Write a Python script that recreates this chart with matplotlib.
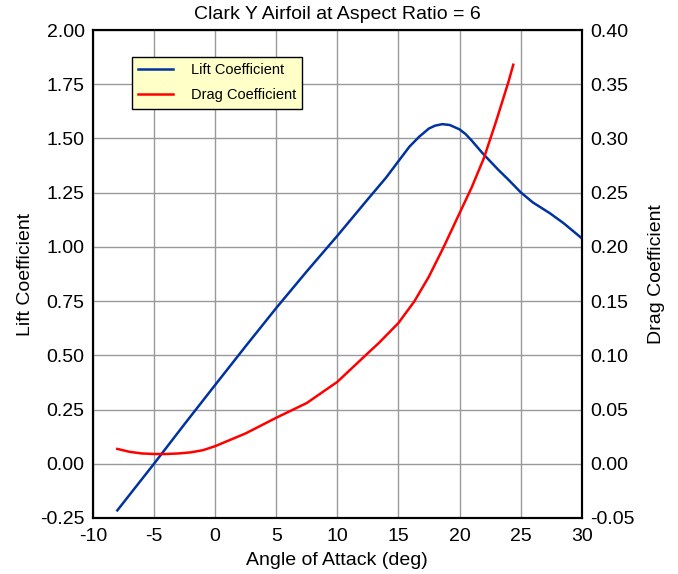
import numpy as np
import matplotlib.pyplot as plt

plt.rcParams['font.family'] = ['Liberation Sans', 'DejaVu Sans']
plt.rcParams['axes.unicode_minus'] = False

# lift coefficient vs angle of attack
alpha_cl = [-8, -5, -2.5, 0, 2.5, 5, 7.5, 10, 12.5, 14, 15, 15.9, 16.7, 17.5, 18, 18.6, 19.2, 20, 20.5, 21, 21.9, 23.2, 24, 25, 26, 27.4, 28.5, 30]
lift = [-0.215, 0.0, 0.183, 0.363, 0.542, 0.718, 0.887, 1.051, 1.22, 1.32, 1.395, 1.462, 1.508, 1.546, 1.559, 1.566, 1.562, 1.542, 1.52, 1.49, 1.431, 1.354, 1.31, 1.252, 1.205, 1.155, 1.11, 1.04]

# drag coefficient vs angle of attack
alpha_cd = [-8, -7, -6, -5, -4, -3, -2, -1, 0, 2.5, 5, 7.5, 10, 12.5, 13.4, 15, 16.3, 17.5, 18.7, 20, 21, 22, 23, 24, 24.4]
drag = [0.0137, 0.011, 0.0095, 0.009, 0.009, 0.0095, 0.0105, 0.0125, 0.0162, 0.028, 0.0424, 0.056, 0.0755, 0.102, 0.1114, 0.1298, 0.1497, 0.1727, 0.1998, 0.231, 0.255, 0.282, 0.316, 0.352, 0.368]

fig = plt.figure(figsize=(6.78, 5.74), dpi=100)
ax = fig.add_axes([0.137, 0.0976, 0.721, 0.8501])
ax2 = ax.twinx()

l1, = ax.plot(alpha_cl, lift, color='#0033a0', lw=1.8, label='Lift Coefficient')
l2, = ax2.plot(alpha_cd, drag, color='#ff0000', lw=1.8, label='Drag Coefficient')

ax.set_xlim(-10, 30)
ax.set_ylim(-0.25, 2.0)
ax2.set_ylim(-0.05, 0.40)
ax.set_xticks(np.arange(-10, 31, 5))
ax.set_yticks(np.arange(-0.25, 2.01, 0.25))
ax2.set_yticks(np.arange(-0.05, 0.401, 0.05))
ax.set_yticklabels([f'{v:.2f}' for v in np.arange(-0.25, 2.01, 0.25)])
ax2.set_yticklabels([f'{v:.2f}' for v in np.arange(-0.05, 0.401, 0.05)])

ax.grid(True, color='#999999', lw=1)
ax.set_axisbelow(True)
for a in (ax, ax2):
    a.tick_params(length=0, labelsize=14, pad=6)
    for s in a.spines.values():
        s.set_linewidth(1.5)
ax.tick_params(axis='x', pad=7)

ax.set_xlabel('Angle of Attack (deg)', fontsize=14, labelpad=5)
ax.set_ylabel('Lift Coefficient', fontsize=14, labelpad=4)
ax2.set_ylabel('Drag Coefficient', fontsize=14, labelpad=10)
ax.set_title('Clark Y Airfoil at Aspect Ratio = 6', fontsize=14, pad=8)

leg = ax.legend(handles=[l1, l2], loc='upper left', bbox_to_anchor=(0.079, 0.945),
                fontsize=10.5, fancybox=False, edgecolor='black', facecolor='#ffffc8',
                framealpha=1, handlelength=2.4, handletextpad=1.2, borderpad=0.45,
                labelspacing=0.75, borderaxespad=0)
leg.get_frame().set_linewidth(1)

fig.savefig('out.png', dpi=100)
